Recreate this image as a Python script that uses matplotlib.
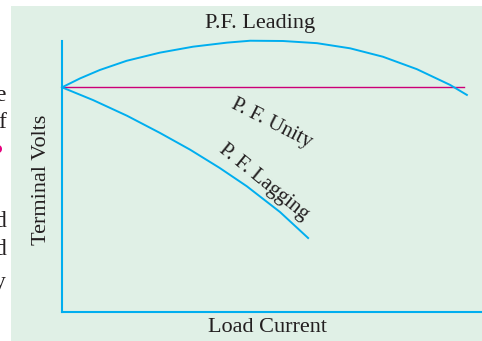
import matplotlib
matplotlib.use("Agg")
import matplotlib.pyplot as plt
from matplotlib.patches import Rectangle

# load current (%) and terminal volts (%)
lead_x = [0, 4.3, 9.0, 15.4, 23.3, 31.2, 39.3, 44.8, 52.6, 60.7, 68.6, 76.4, 84.5, 92.4, 96.4]
lead_y = [82.9, 86.2, 89.3, 92.7, 95.7, 97.9, 99.4, 100.1, 100.0, 99.2, 97.3, 94.2, 89.6, 83.8, 80.1]

unity_x = [0, 95.7]
unity_y = [82.9, 82.9]

lag_x = [0, 7.4, 15.5, 23.3, 30.5, 37.5, 44.0, 51.9, 58.6]
lag_y = [82.9, 78.2, 72.4, 66.1, 59.9, 53.2, 46.4, 36.9, 27.3]

W, H = 482, 341
cyan = "#00aeef"
magenta = "#cc0077"
txt = "#231f20"
bg = "#e0f0e6"

plt.rcParams["font.family"] = ["Liberation Serif", "DejaVu Serif"]

fig = plt.figure(figsize=(W / 100, H / 100), dpi=100)
fig.patch.set_facecolor("white")

# green panel behind the figure
fig.patches.append(Rectangle((11 / W, 0), 1, 1 - 6 / H, transform=fig.transFigure,
                             facecolor=bg, edgecolor="none", zorder=-10))

ax = fig.add_axes([62 / W, (H - 312) / H, (W - 62) / W, (312 - 41) / H])
ax.set_zorder(5)
ax.set_facecolor("none")
ax.set_xlim(0, 100)
ax.set_ylim(0, 100)
for s in ["top", "right"]:
    ax.spines[s].set_visible(False)
for s in ["left", "bottom"]:
    ax.spines[s].set_color(cyan)
    ax.spines[s].set_linewidth(1.5)
ax.set_xticks([])
ax.set_yticks([])

ax.plot(unity_x, unity_y, color=magenta, lw=1.0, clip_on=False)
ax.plot(lead_x, lead_y, color=cyan, lw=1.4, clip_on=False)
ax.plot(lag_x, lag_y, color=cyan, lw=1.4, clip_on=False)

def px(x, y):
    return x / W, 1 - y / H

fig.text(*px(260, 28), "P.F. Leading", fontsize=16, color=txt, ha="center", va="baseline")
fig.text(*px(272, 124), "P. F. Unity", fontsize=15, color=txt, ha="center", va="center",
         rotation=-27, rotation_mode="anchor")
fig.text(*px(264, 182), "P. F. Lagging", fontsize=15, color=txt, ha="center", va="center",
         rotation=-39, rotation_mode="anchor")
fig.text(*px(268, 332), "Load Current", fontsize=16, color=txt, ha="center", va="baseline")
fig.text(*px(41, 180), "Terminal Volts", fontsize=16, color=txt, ha="center", va="center",
         rotation=90)

# fragments of the neighbouring page text
frag = [("e", 101), ("f", 128), ("d", 227), ("d", 255), ("y", 288)]
for ch, yy in frag:
    fig.text(*px(6, yy), ch, fontsize=17, color=txt, ha="right", va="baseline")
fig.text(*px(3.5, 160), "•", fontsize=22, color="#e6007e", ha="right", va="baseline")

fig.savefig("out.png", dpi=100)
